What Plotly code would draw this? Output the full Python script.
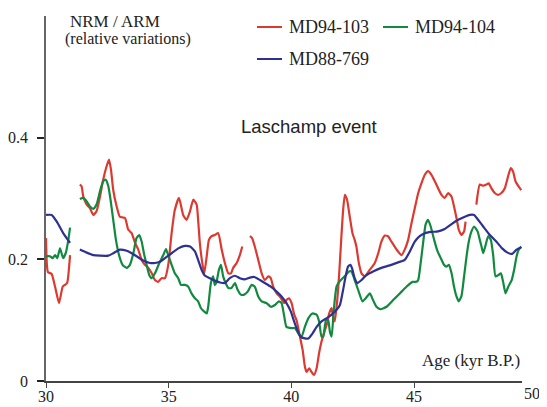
import plotly.graph_objects as go

# ---------------- data ----------------
N = None
red_age = [30.0, 30.08, 30.23, 30.37, 30.53, 30.68, 30.77, 30.86, 30.98, N,
           31.38, 31.45, 31.52, 31.66, 31.79, 31.93, 32.06, 32.20, 32.33, 32.47, 32.57, 32.65, 32.74, 32.88,
           33.01, 33.22, 33.35, 33.49, 33.63, 33.76, 33.90, 34.03, 34.17, 34.31, 34.44, 34.57, 34.71, 34.85,
           34.98, 35.12, 35.25, 35.42, 35.59, 35.73, 35.87, 36.00, 36.14, 36.20, 36.27, 36.37, 36.45, 36.55,
           36.64, 36.75, 36.88, 37.02, 37.16, 37.29, 37.43, 37.54, 37.63, 37.77, 37.90, 38.00, N,
           38.31, 38.40, 38.51, 38.65, 38.79, 38.92, 39.06, 39.16, 39.26, 39.40, 39.53, 39.71, 39.80, 39.90,
           40.01, 40.11, 40.21, 40.35, 40.46, 40.55, 40.62, 40.73, 40.82, 40.92, 41.03, 41.13, 41.23, 41.37,
           41.46, 41.54, 41.64, 41.70, 41.77, 41.87, 41.95, 42.04, 42.11, 42.18, 42.27, 42.38, 42.49, 42.58,
           42.65, 42.75, 42.86, 42.99, 43.20, 43.40, 43.54, 43.67, 43.81, 43.94, 44.08, 44.29, 44.49, 44.62,
           44.76, 44.90, 45.03, 45.17, 45.30, 45.44, 45.57, 45.71, 45.85, 45.98, 46.12, 46.25, 46.39, 46.53,
           46.63, 46.73, 46.82, 46.93, 47.04, 47.10, N,
           47.54, 47.68, 47.82, 47.95, 48.04, 48.15, 48.29, 48.42, 48.56, 48.70, 48.83, 48.94, 49.03, 49.14,
           49.26, 49.37]
red_val = [0.235, 0.179, 0.176, 0.155, 0.128, 0.155, 0.158, 0.161, 0.207, N,
           0.323, 0.320, 0.303, 0.290, 0.284, 0.273, 0.279, 0.303, 0.331, 0.353, 0.364, 0.347, 0.314, 0.287,
           0.270, 0.268, 0.249, 0.243, 0.227, 0.216, 0.199, 0.191, 0.186, 0.177, 0.166, 0.163, 0.169, 0.169,
           0.190, 0.243, 0.281, 0.301, 0.273, 0.265, 0.279, 0.298, 0.290, 0.265, 0.227, 0.194, 0.177, 0.205,
           0.232, 0.238, 0.240, 0.243, 0.216, 0.194, 0.177, 0.177, 0.186, 0.194, 0.207, 0.221, N,
           0.238, 0.235, 0.221, 0.199, 0.177, 0.166, 0.172, 0.169, 0.155, 0.144, 0.139, 0.128, 0.133, 0.136,
           0.128, 0.110, 0.100, 0.073, 0.051, 0.024, 0.015, 0.021, 0.015, 0.010, 0.021, 0.046, 0.065, 0.084,
           0.095, 0.111, 0.120, 0.106, 0.098, 0.133, 0.177, 0.238, 0.281, 0.306, 0.298, 0.270, 0.243, 0.232,
           0.221, 0.194, 0.177, 0.172, 0.183, 0.194, 0.210, 0.229, 0.239, 0.238, 0.229, 0.216, 0.207, 0.216,
           0.232, 0.260, 0.284, 0.309, 0.325, 0.339, 0.345, 0.339, 0.328, 0.317, 0.306, 0.301, 0.309, 0.303,
           0.287, 0.268, 0.249, 0.240, 0.246, 0.262, N,
           0.290, 0.323, 0.321, 0.323, 0.325, 0.317, 0.309, 0.306, 0.309, 0.317, 0.336, 0.350, 0.345, 0.328,
           0.320, 0.314]

green_age = [30.0, 30.16, 30.27, 30.37, 30.46, 30.57, 30.70, 30.81, 30.91, 30.98, N,
             31.38, 31.52, 31.66, 31.79, 31.93, 32.06, 32.20, 32.33, 32.43, 32.54, 32.63, 32.74, 32.85, 32.99,
             33.12, 33.29, 33.42, 33.56, 33.69, 33.80, 33.90, 33.99, 34.10, 34.21, 34.31, 34.44, 34.62, 34.78,
             34.89, 34.98, 35.12, 35.25, 35.39, 35.50, 35.66, 35.80, 35.93, 36.07, 36.20, 36.31, 36.45, 36.55,
             36.61, 36.72, 36.81, 36.88, 36.95, 37.05, 37.13, 37.22, 37.32, 37.43, 37.56, 37.70, 37.81, 37.94,
             38.08, 38.22, 38.38, 38.51, 38.65, 38.79, 38.99, 39.16, 39.33, 39.49, 39.60, 39.71, 39.80, 40.01,
             40.14, 40.32, 40.42, 40.55, 40.69, 40.86, 41.03, 41.13, 41.23, 41.30, 41.41, 41.50, 41.57, 41.64,
             41.73, 41.84, 41.95, 42.09, 42.22, 42.35, 42.45, 42.58, 42.72, 42.90, 43.03, 43.20, 43.33, 43.47,
             43.63, 43.88, 44.15, 44.42, 44.69, 44.94, 45.10, 45.17, 45.27, 45.37, 45.47, 45.57, 45.68, 45.82,
             45.96, 46.09, 46.22, 46.32, 46.42, 46.53, 46.63, 46.73, 46.82, 46.93, 47.04, 47.14, 47.23, 47.34,
             47.45, 47.59, 47.68, 47.75, 47.82, 47.92, 48.02, 48.13, 48.23, 48.32, 48.43, 48.54, 48.63, 48.73,
             48.84, 48.98, 49.08, 49.18, 49.27, 49.37]
green_val = [0.205, 0.205, 0.202, 0.207, 0.202, 0.218, 0.202, 0.211, 0.232, 0.252, N,
             0.299, 0.301, 0.295, 0.287, 0.283, 0.290, 0.312, 0.328, 0.331, 0.320, 0.298, 0.265, 0.232, 0.205,
             0.191, 0.186, 0.191, 0.210, 0.235, 0.240, 0.229, 0.210, 0.191, 0.174, 0.169, 0.177, 0.194, 0.207,
             0.217, 0.207, 0.191, 0.177, 0.169, 0.158, 0.158, 0.155, 0.144, 0.136, 0.131, 0.120, 0.114, 0.111,
             0.122, 0.161, 0.172, 0.158, 0.163, 0.183, 0.191, 0.172, 0.161, 0.153, 0.153, 0.161, 0.150, 0.142,
             0.142, 0.147, 0.158, 0.155, 0.139, 0.131, 0.128, 0.122, 0.125, 0.131, 0.128, 0.106, 0.089, 0.087,
             0.087, 0.076, 0.073, 0.089, 0.103, 0.111, 0.109, 0.098, 0.073, 0.073, 0.100, 0.100, 0.081, 0.073,
             0.117, 0.155, 0.163, 0.169, 0.174, 0.180, 0.180, 0.166, 0.150, 0.131, 0.136, 0.144, 0.133, 0.122,
             0.118, 0.122, 0.133, 0.144, 0.155, 0.163, 0.163, 0.166, 0.194, 0.227, 0.257, 0.265, 0.254, 0.232,
             0.213, 0.202, 0.191, 0.188, 0.191, 0.177, 0.155, 0.139, 0.131, 0.139, 0.172, 0.205, 0.229, 0.246,
             0.254, 0.246, 0.232, 0.221, 0.210, 0.224, 0.238, 0.232, 0.205, 0.172, 0.174, 0.177, 0.163, 0.144,
             0.155, 0.166, 0.183, 0.205, 0.216, 0.221]

blue_age = [30.0, 30.23, 30.44, 30.70, 30.98, N,
            31.38, 31.66, 31.93, 32.20, 32.54, 32.74, 33.01, 33.29, 33.49, 33.69, 33.96, 34.24, 34.44, 34.64,
            34.85, 35.12, 35.39, 35.66, 35.87, 36.07, 36.20, 36.34, 36.48, 36.68, 36.88, 37.09, 37.29, 37.49,
            37.70, 37.90, 38.11, 38.31, 38.49, 38.72, 38.92, 39.16, 39.40, 39.60, 39.80, 39.98, 40.07, 40.21,
            40.37, 40.55, 40.69, 40.86, 41.03, 41.23, 41.43, 41.64, 41.84, 41.98, 42.11, 42.22, 42.31, 42.41,
            42.49, 42.58, 42.69, 42.86, 43.06, 43.33, 43.67, 44.01, 44.35, 44.62, 44.83, 45.03, 45.23, 45.44,
            45.71, 45.98, 46.25, 46.53, 46.80, 47.07, 47.27, 47.45, 47.61, 47.82, 48.09, 48.36, 48.59, 48.81,
            49.00, 49.18, 49.37]
blue_val = [0.273, 0.273, 0.262, 0.243, 0.227, N,
            0.216, 0.211, 0.207, 0.206, 0.206, 0.210, 0.216, 0.214, 0.210, 0.205, 0.198, 0.194, 0.194, 0.196,
            0.202, 0.210, 0.218, 0.222, 0.221, 0.213, 0.199, 0.183, 0.173, 0.169, 0.165, 0.162, 0.161, 0.169,
            0.173, 0.169, 0.167, 0.170, 0.171, 0.166, 0.161, 0.155, 0.147, 0.139, 0.128, 0.114, 0.103, 0.087,
            0.073, 0.070, 0.070, 0.078, 0.089, 0.098, 0.103, 0.109, 0.117, 0.125, 0.150, 0.174, 0.188, 0.191,
            0.183, 0.169, 0.161, 0.166, 0.174, 0.180, 0.186, 0.190, 0.195, 0.199, 0.213, 0.229, 0.238, 0.243,
            0.245, 0.246, 0.250, 0.258, 0.265, 0.270, 0.273, 0.273, 0.265, 0.254, 0.240, 0.229, 0.218, 0.211,
            0.209, 0.216, 0.220]

series_names = ["MD94-103", "MD94-104", "MD88-769"]
x_ticks = [30, 35, 40, 45]
x_last_label = 50
y_ticks = [0, 0.2, 0.4]
y_tick_labels = ["0", "0.2", "0.4"]
X_RANGE = [30, 49.4]

# ---------------- styling ----------------
RED, GREEN, BLUE = "#dc3a30", "#11893f", "#2d3192"
SERIF = "Liberation Serif, Times New Roman, serif"
SANS = "Liberation Sans, Arial, sans-serif"

OFF = 8                      # default page (body) margin of the html page
W, H = 547 - OFF, 407 - OFF
ML, MT = 46 - OFF, 16 - OFF
MR = W - (522 - OFF)
MB = H - (381 - OFF)
PW, PH = W - ML - MR, H - MT - MB


def px2paper(px, py):
    """screen pixel of the 547x407 picture -> paper coordinates"""
    fx, fy = px - OFF, py - OFF
    return (fx - ML) / PW, (H - MB - fy) / PH


fig = go.Figure()
for age, val, col, name in [(red_age, red_val, RED, series_names[0]),
                            (green_age, green_val, GREEN, series_names[1]),
                            (blue_age, blue_val, BLUE, series_names[2])]:
    fig.add_trace(go.Scatter(x=age, y=val, mode="lines", name=name,
                             line=dict(color=col, width=2.2, shape="spline", smoothing=0.5),
                             connectgaps=False, showlegend=False))

fig.update_layout(
    width=W, height=H,
    margin=dict(l=ML, r=MR, t=MT, b=MB, pad=0, autoexpand=False),
    paper_bgcolor="white", plot_bgcolor="white",
    xaxis=dict(range=X_RANGE, tickvals=x_ticks, showgrid=False, zeroline=False, automargin=False,
               showline=True, linecolor="#444", linewidth=1.5,
               ticks="outside", ticklen=5, tickcolor="#444", tickwidth=1.2,
               tickfont=dict(family=SERIF, size=16, color="#222"), ticklabelstandoff=-5),
    yaxis=dict(range=[0, 0.6], tickvals=y_ticks, ticktext=y_tick_labels, showgrid=False, zeroline=False,
               automargin=False,
               showline=True, linecolor="#666", linewidth=1.5,
               ticks="outside", ticklen=7, tickcolor="#222", tickwidth=1.6,
               tickfont=dict(family=SERIF, size=16, color="#222"), ticklabelstandoff=6),
)

annotations = []
# "50" label beyond the end of the axis line
x50 = (x_last_label - X_RANGE[0]) / (X_RANGE[1] - X_RANGE[0])
annotations.append(dict(x=x50, y=0, xref="paper", yref="paper", text=str(x_last_label), showarrow=False,
                        xanchor="center", yanchor="top", yshift=-2, xshift=-5,
                        font=dict(family=SERIF, size=16, color="#222")))
# axis titles
x0, y0 = px2paper(68, 21)
annotations.append(dict(x=x0, y=y0, xref="paper", yref="paper", text="NRM / ARM", showarrow=False,
                        xanchor="left", yanchor="middle", font=dict(family=SERIF, size=17, color="#222")))
x0, y0 = px2paper(63, 39)
annotations.append(dict(x=x0, y=y0, xref="paper", yref="paper", text="(relative variations)", showarrow=False,
                        xanchor="left", yanchor="middle", font=dict(family=SERIF, size=16, color="#222")))
x0, y0 = px2paper(522, 360)
annotations.append(dict(x=x0, y=y0, xref="paper", yref="paper", text="Age (kyr B.P.)", showarrow=False,
                        xanchor="right", yanchor="middle", font=dict(family=SERIF, size=17, color="#222")))
x0, y0 = px2paper(309, 126)
annotations.append(dict(x=x0, y=y0, xref="paper", yref="paper", text="Laschamp event", showarrow=False,
                        xanchor="center", yanchor="middle", font=dict(family=SANS, size=18.5, color="#222")))

# legend (line samples + labels)
shapes = []
legend_items = [(257, 27, RED, series_names[0]), (383, 27, GREEN, series_names[1]), (257, 59, BLUE, series_names[2])]
for lx, ly, col, name in legend_items:
    a, b = px2paper(lx, ly)
    c, _ = px2paper(lx + 25, ly)
    shapes.append(dict(type="line", xref="paper", yref="paper", x0=a, x1=c, y0=b, y1=b,
                       line=dict(color=col, width=2)))
    t, _ = px2paper(lx + 30, ly)
    annotations.append(dict(x=t, y=b, xref="paper", yref="paper", text=name, showarrow=False,
                            xanchor="left", yanchor="middle", font=dict(family=SERIF, size=18, color="#222")))

fig.update_layout(annotations=annotations, shapes=shapes)
fig.write_html("out.html")
